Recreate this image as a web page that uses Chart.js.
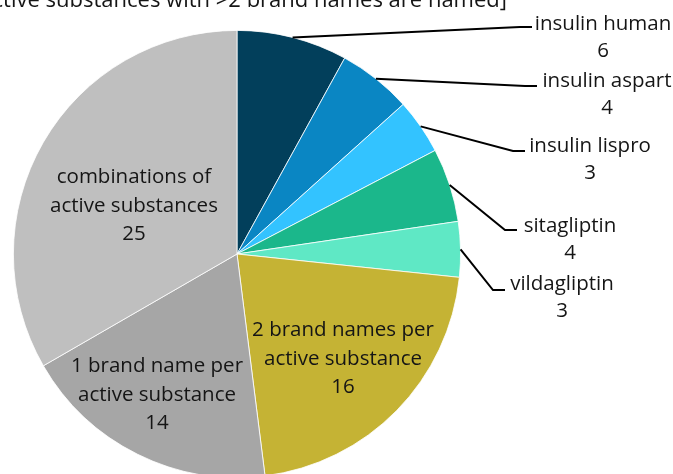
<!DOCTYPE html>
<html>
<head>
<meta charset="utf-8">
<script src="https://cdn.jsdelivr.net/npm/chart.js@4"></script>
<style>
  html, body { margin: 0; padding: 0; background: #fff; }
  #frame { position: relative; width: 673px; height: 474px; overflow: hidden; }
  #box { position: absolute; left: 0; top: 0; width: 673px; height: 520px; }
</style>
</head>
<body>
<div id="frame"><div id="box"><canvas id="pie"></canvas></div></div>
<script>
// data
const categories = [
  ['insulin human'],
  ['insulin aspart'],
  ['insulin lispro'],
  ['sitagliptin'],
  ['vildagliptin'],
  ['2 brand names per', 'active substance'],
  ['1 brand name per', 'active substance'],
  ['combinations of', 'active substances']
];
const brandCounts = [6, 4, 3, 4, 3, 16, 14, 25];
const sliceColors = ['#023f5b', '#0a86c3', '#33c3ff', '#1bb78b', '#5fe8c5', '#c5b334', '#a6a6a6', '#bfbfbf'];
const titleText = '[only active substances with >2 brand names are named]';

// where each label sits; outside labels get a leader line from the slice edge
const labelSpots = [
  { x: 603, y: 30, out: true },
  { x: 607, y: 87, out: true },
  { x: 590, y: 152, out: true },
  { x: 570, y: 232, out: true },
  { x: 562, y: 290, out: true },
  { x: 343, y: 336, out: false },
  { x: 157, y: 372, out: false },
  { x: 134, y: 183, out: false }
];
const leaderEnds = [
  { x: 532, y: 27 },
  { x: 537, y: 86 },
  { x: 525, y: 151 },
  { x: 517, y: 230 },
  { x: 505, y: 290 }
];

const FONT = '20.5px "Open Sans", "Noto Sans", sans-serif';
const LINE = 28.5;

const labelPlugin = {
  id: 'sliceLabels',
  afterDatasetsDraw(chart) {
    const ctx = chart.ctx;
    const arcs = chart.getDatasetMeta(0).data;
    ctx.save();
    ctx.font = FONT;
    ctx.fillStyle = '#151515';
    ctx.strokeStyle = '#000';
    ctx.lineWidth = 2;
    ctx.textAlign = 'center';
    ctx.textBaseline = 'alphabetic';
    arcs.forEach(function(arc, i) {
      const spot = labelSpots[i];
      if (spot.out) {
        const p = arc.getProps(['x', 'y', 'startAngle', 'endAngle', 'outerRadius'], true);
        const mid = (p.startAngle + p.endAngle) / 2;
        const sx = p.x + Math.cos(mid) * p.outerRadius;
        const sy = p.y + Math.sin(mid) * p.outerRadius;
        const end = leaderEnds[i];
        ctx.beginPath();
        ctx.moveTo(sx, sy);
        ctx.lineTo(end.x - 12, end.y);
        ctx.lineTo(end.x, end.y);
        ctx.stroke();
      }
      const lines = categories[i].concat([String(brandCounts[i])]);
      const step = spot.out ? 27 : LINE;
      lines.forEach(function(t, k) {
        ctx.fillText(t, spot.x, spot.y + k * step);
      });
    });
    // title, partly outside the frame like the source
    ctx.font = '22px "Open Sans", "Noto Sans", sans-serif';
    ctx.textAlign = 'right';
    ctx.fillText(titleText, 507, 7);
    ctx.restore();
  }
};

new Chart(document.getElementById('pie'), {
  type: 'pie',
  data: {
    labels: categories.map(function(c) { return c.join(' '); }),
    datasets: [{
      data: brandCounts,
      backgroundColor: sliceColors,
      borderColor: '#ffffff',
      borderWidth: 0.8
    }]
  },
  options: {
    responsive: true,
    maintainAspectRatio: false,
    animation: false,
    layout: { padding: { left: 13, right: 212, top: 30, bottom: 42 } },
    plugins: {
      legend: { display: false },
      tooltip: { enabled: false }
    }
  },
  plugins: [labelPlugin]
});
</script>
</body>
</html>
